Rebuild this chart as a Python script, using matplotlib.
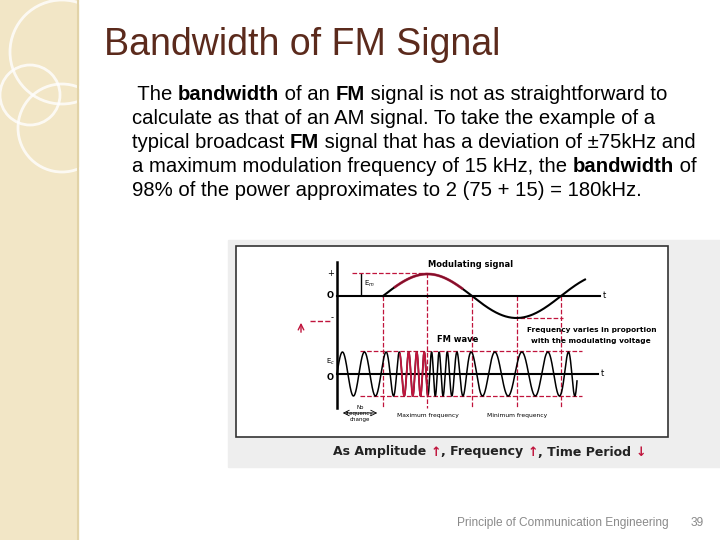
import numpy as np
import matplotlib
matplotlib.use("Agg")
import matplotlib.pyplot as plt
from matplotlib.patches import Rectangle, Circle

title = "Bandwidth of FM Signal"
body_lines = [
    [(" The ", False), ("bandwidth", True), (" of an ", False), ("FM", True), (" signal is not as straightforward to", False)],
    [("calculate as that of an AM signal. To take the example of a", False)],
    [("typical broadcast ", False), ("FM", True), (" signal that has a deviation of \u00b175kHz and", False)],
    [("a maximum modulation frequency of 15 kHz, the ", False), ("bandwidth", True), (" of", False)],
    [("98% of the power approximates to 2 (75 + 15) = 180kHz.", False)],
]
footer = "Principle of Communication Engineering"
page = "39"

# diagram parameters (pixels)
mod_start, mod_period, mod_amp, mod_y0 = 383, 178, 22, 296
fm_y0, fm_amp, fm_base_period = 374, 22, 22
dash_x = [383, 427, 472, 517, 561]

fig = plt.figure(figsize=(7.2, 5.4), dpi=100)
ax = fig.add_axes([0, 0, 1, 1])
ax.set_xlim(0, 720); ax.set_ylim(540, 0); ax.axis("off")

# left decorative strip
ax.add_patch(Rectangle((0, 0), 78, 540, color="#f2e6c6", zorder=0))
ax.plot([78, 78], [0, 540], color="#e2d3a8", lw=1.5)
for (cx, cy, r) in [(62, 52, 52), (62, 128, 44), (30, 95, 30)]:
    ax.add_patch(Circle((cx, cy), r, fill=False, ec="white", lw=2, alpha=0.8))

ax.text(104, 45, title, fontsize=27, color="#5b2a1c", family="Liberation Sans", va="center")

fig.canvas.draw()
r = fig.canvas.get_renderer()
y = 95
for i, line in enumerate(body_lines):
    x = 132
    for txt, bold in line:
        t = ax.text(x, y, txt, fontsize=14.6, family="Liberation Sans",
                    fontweight="bold" if bold else "normal", va="center")
        bb = t.get_window_extent(r)
        x += bb.width
    y += 24

# diagram
ax.add_patch(Rectangle((228, 240), 492, 227, color="#eeeeee", zorder=1))
ax.add_patch(Rectangle((236, 246), 432, 191, fc="white", ec="#333333", lw=1.2, zorder=1))
# axes
ax.plot([337, 337], [262, 408], color="k", lw=1.8, zorder=3)
ax.plot([337, 600], [mod_y0, mod_y0], color="k", lw=1.5, zorder=3)
ax.plot([337, 598], [fm_y0, fm_y0], color="k", lw=1.5, zorder=3)
ax.text(603, mod_y0, "t", fontsize=6, va="center")
ax.text(601, fm_y0, "t", fontsize=6, va="center")
ax.text(334, 273, "+", fontsize=6, ha="right", va="center")
ax.text(334, mod_y0, "O", fontsize=6, ha="right", va="center", fontweight="bold")
ax.text(334, 318, "-", fontsize=6, ha="right", va="center")
ax.text(334, fm_y0 + 3, "O", fontsize=6, ha="right", va="center", fontweight="bold")
ax.plot([361, 361], [274, 295], color="k", lw=1)
ax.text(364, 284, "E$_m$", fontsize=5, va="center")
ax.text(326, 362, "E$_c$", fontsize=5, va="center")
ax.annotate("", xy=(301, 320), xytext=(301, 335), arrowprops=dict(arrowstyle="->", color="#c0143c", lw=1))
ax.plot([310, 330], [321, 321], color="#c0143c", lw=1, ls="--")
# modulating signal
xm = np.linspace(mod_start, 585, 400)
ym = mod_y0 - mod_amp * np.sin(2 * np.pi * (xm - mod_start) / mod_period)
ax.plot(xm, ym, color="k", lw=1.5, zorder=4)
sel = (xm > 395) & (xm < 462)
ax.plot(xm[sel], ym[sel], color="#c0143c", lw=2, alpha=0.7, zorder=4)
ax.text(428, 267, "Modulating signal", fontsize=6, fontweight="bold")
# FM wave
xf = np.linspace(337, 577, 4000)
mod = np.where(xf > mod_start, np.sin(2 * np.pi * (xf - mod_start) / mod_period), 0)
freq = (1 / fm_base_period) * (1 + 2.0 * np.clip(mod, 0, None) + 0.2 * np.clip(mod, None, 0))
phase = np.cumsum(freq) * (xf[1] - xf[0])
yf = fm_y0 - fm_amp * np.sin(2 * np.pi * phase)
ax.plot(xf, yf, color="k", lw=1.1, zorder=4)
sel = (xf > 400) & (xf < 428)
ax.plot(xf[sel], yf[sel], color="#c0143c", lw=1.3, zorder=5)
ax.text(437, 342, "FM wave", fontsize=6, fontweight="bold")
ax.text(527, 332, "Frequency varies in proportion", fontsize=5.3, fontweight="bold")
ax.text(531, 343, "with the modulating voltage", fontsize=5.3, fontweight="bold")
# dashed red lines
red = "#c0143c"
ax.plot([352, 427], [273, 273], color=red, ls="--", lw=0.9)
ax.plot([520, 563], [318, 318], color=red, ls="--", lw=0.9)
for yy in (351, 396):
    ax.plot([360, 582], [yy, yy], color=red, ls="--", lw=0.9)
for xx in dash_x:
    ax.plot([xx, xx], [mod_y0 if xx != 427 else 273, 408], color=red, ls="--", lw=0.9)
ax.text(360, 405, "No\nfrequency\nchange", fontsize=4, ha="center", va="top", linespacing=1.2)
ax.annotate("", xy=(340, 413), xytext=(380, 413), arrowprops=dict(arrowstyle="<->", lw=0.6))
ax.text(397, 417, "Maximum frequency", fontsize=4.3)
ax.text(487, 417, "Minimum frequency", fontsize=4.3)
# bottom caption
x = 333
for txt, c in [("As Amplitude ", "#222222"), ("\u2191", red), (", Frequency ", "#222222"), ("\u2191", red),
               (", Time Period ", "#222222"), ("\u2193", red)]:
    t = ax.text(x, 452, txt, fontsize=9, fontweight="bold", color=c, va="center")
    x += t.get_window_extent(r).width

ax.text(457, 523, footer, fontsize=8.6, color="#8a8a8a", va="center", family="Liberation Sans")
ax.text(691, 523, page, fontsize=8.6, color="#8a8a8a", va="center", family="Liberation Sans")

fig.savefig("out.png", dpi=100)
